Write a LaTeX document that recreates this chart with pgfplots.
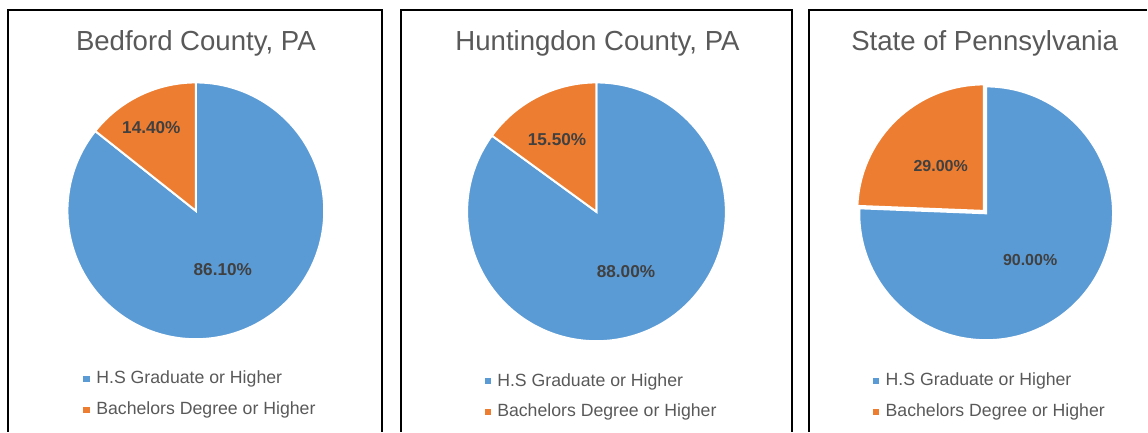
\documentclass[border=0pt]{standalone}
\usepackage{pgfplots}
\usepackage{pgfplotstable}
\pgfplotsset{compat=1.18}
\usepackage{fontspec}
\setmainfont{Liberation Sans}
\definecolor{hsblue}{HTML}{5B9BD5}
\definecolor{baorange}{HTML}{ED7D31}
\definecolor{titlegray}{HTML}{595959}
\definecolor{labelgray}{HTML}{404040}

% values (percent) and pie geometry (px, y measured upward)
\pgfplotstableread{
region hs ba cx cy r
Bedford 86.1 14.4 196 221 128.5
Huntingdon 88.0 15.5 597 220 129.5
Pennsylvania 90.0 29.0 987 218.5 127
}\piedata

\newcommand\getpie[2]{%
  \pgfplotstablegetelem{#1}{hs}\of\piedata\let\tmphs\pgfplotsretval
  \pgfplotstablegetelem{#1}{ba}\of\piedata\let\tmpba\pgfplotsretval
  \pgfplotstablegetelem{#1}{cx}\of\piedata\let\tmpcx\pgfplotsretval
  \pgfplotstablegetelem{#1}{cy}\of\piedata\let\tmpcy\pgfplotsretval
  \pgfplotstablegetelem{#1}{r}\of\piedata\let\tmpr\pgfplotsretval
  \pgfmathsetmacro\tmpang{90+360*\tmpba/(\tmphs+\tmpba)}%
  \expandafter\xdef\csname hs#2\endcsname{\tmphs}%
  \expandafter\xdef\csname ba#2\endcsname{\tmpba}%
  \expandafter\xdef\csname cx#2\endcsname{\tmpcx}%
  \expandafter\xdef\csname cy#2\endcsname{\tmpcy}%
  \expandafter\xdef\csname r#2\endcsname{\tmpr}%
  \expandafter\xdef\csname ang#2\endcsname{\tmpang}%
}
\getpie{0}{A}
\getpie{1}{B}
\getpie{2}{C}

\newcommand\pct[1]{\pgfmathprintnumber[fixed,fixed zerofill,precision=2,assume math mode=true]{#1}\%}

\begin{document}
\begin{tikzpicture}
\begin{axis}[
  x=0.5pt, y=0.5pt,
  xmin=0, xmax=1148, ymin=0, ymax=432,
  hide axis, clip=false,
]
\path (axis cs:0,0) rectangle (axis cs:1148,432);
% panel frames
\draw[black, line width=1pt] (axis cs:8,0) -- (axis cs:8,422) -- (axis cs:382.5,422) -- (axis cs:382.5,0);
\draw[black, line width=1pt] (axis cs:401.5,0) -- (axis cs:401.5,422) -- (axis cs:793,422) -- (axis cs:793,0);
\draw[black, line width=1pt] (axis cs:810,0) -- (axis cs:810,422) -- (axis cs:1148,422);

% pies
\fill[hsblue, draw=white, line width=1pt, line join=miter] (axis cs:\cxA,\cyA) -- ++(\angA:\rA*0.5pt) arc[start angle=\angA, end angle=450, radius=\rA*0.5pt] -- cycle;
\fill[baorange, draw=white, line width=1pt, line join=miter] (axis cs:\cxA,\cyA) -- ++(90:\rA*0.5pt) arc[start angle=90, end angle=\angA, radius=\rA*0.5pt] -- cycle;

\fill[hsblue, draw=white, line width=1pt, line join=miter] (axis cs:\cxB,\cyB) -- ++(\angB:\rB*0.5pt) arc[start angle=\angB, end angle=450, radius=\rB*0.5pt] -- cycle;
\fill[baorange, draw=white, line width=1pt, line join=miter] (axis cs:\cxB,\cyB) -- ++(90:\rB*0.5pt) arc[start angle=90, end angle=\angB, radius=\rB*0.5pt] -- cycle;

\fill[hsblue, draw=white, line width=1pt, line join=miter] (axis cs:\cxC,\cyC) -- ++(\angC:\rC*0.5pt) arc[start angle=\angC, end angle=450, radius=\rC*0.5pt] -- cycle;
\fill[baorange, draw=white, line width=1.2pt, line join=miter, shift={(-1.1pt,1.1pt)}] (axis cs:\cxC,\cyC) -- ++(90:\rC*0.5pt) arc[start angle=90, end angle=\angC, radius=\rC*0.5pt] -- cycle;

% titles
\node[anchor=base, inner sep=0, text=titlegray, font=\fontsize{13.8}{16}\selectfont] at (axis cs:196,381) {Bedford County, PA};
\node[anchor=base, inner sep=0, text=titlegray, font=\fontsize{13.8}{16}\selectfont] at (axis cs:598,381) {Huntingdon County, PA};
\node[anchor=base, inner sep=0, text=titlegray, font=\fontsize{13.8}{16}\selectfont] at (axis cs:985.5,381) {State of Pennsylvania};

% data labels
\node[anchor=base, inner sep=0, text=labelgray, font=\fontsize{8.6}{10}\selectfont\bfseries] at (axis cs:151.5,298) {\pct{\baA}};
\node[anchor=base, inner sep=0, text=labelgray, font=\fontsize{8.6}{10}\selectfont\bfseries] at (axis cs:223,156) {\pct{\hsA}};
\node[anchor=base, inner sep=0, text=labelgray, font=\fontsize{8.6}{10}\selectfont\bfseries] at (axis cs:557.5,286.5) {\pct{\baB}};
\node[anchor=base, inner sep=0, text=labelgray, font=\fontsize{8.6}{10}\selectfont\bfseries] at (axis cs:626.5,154.5) {\pct{\hsB}};
\node[anchor=base, inner sep=0, text=labelgray, font=\fontsize{8}{10}\selectfont\bfseries] at (axis cs:941.5,260) {\pct{\baC}};
\node[anchor=base, inner sep=0, text=labelgray, font=\fontsize{8}{10}\selectfont\bfseries] at (axis cs:1031,166) {\pct{\hsC}};

% legends
\fill[hsblue] (axis cs:83.5,50) rectangle (axis cs:89.8,56);
\fill[baorange] (axis cs:83.5,18.5) rectangle (axis cs:89.8,24.5);
\node[anchor=base west, inner sep=0, text=titlegray, font=\fontsize{8.85}{10}\selectfont] at (axis cs:96,48) {H.S Graduate or Higher};
\node[anchor=base west, inner sep=0, text=titlegray, font=\fontsize{8.85}{10}\selectfont] at (axis cs:96,16.7) {Bachelors Degree or Higher};

\fill[hsblue] (axis cs:485.5,48) rectangle (axis cs:491.5,54);
\fill[baorange] (axis cs:485.5,17) rectangle (axis cs:491.5,23);
\node[anchor=base west, inner sep=0, text=titlegray, font=\fontsize{8.85}{10}\selectfont] at (axis cs:497.3,45.3) {H.S Graduate or Higher};
\node[anchor=base west, inner sep=0, text=titlegray, font=\fontsize{8.85}{10}\selectfont] at (axis cs:497.3,14.7) {Bachelors Degree or Higher};

\fill[hsblue] (axis cs:874,48) rectangle (axis cs:880,54);
\fill[baorange] (axis cs:874,17) rectangle (axis cs:880,23);
\node[anchor=base west, inner sep=0, text=titlegray, font=\fontsize{8.85}{10}\selectfont] at (axis cs:886,45.7) {H.S Graduate or Higher};
\node[anchor=base west, inner sep=0, text=titlegray, font=\fontsize{8.85}{10}\selectfont] at (axis cs:886,14.7) {Bachelors Degree or Higher};
\end{axis}
\end{tikzpicture}
\end{document}
